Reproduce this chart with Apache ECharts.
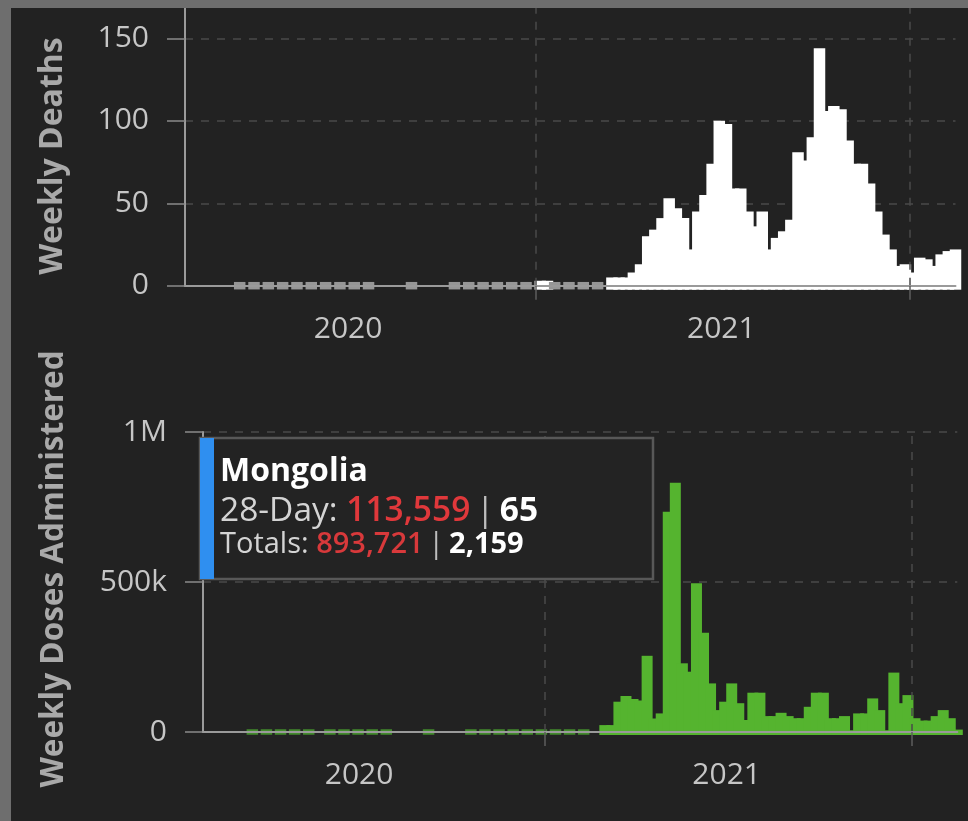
<!DOCTYPE html>
<html>
<head>
<meta charset="utf-8">
<script src="https://cdn.jsdelivr.net/npm/echarts@6.0.0/dist/echarts.min.js"></script>
<style>
html, body { margin: 0; padding: 0; background: #222222; }
#chart { width: 968px; height: 821px; }
</style>
</head>
<body>
<div id="chart"></div>
<script>
// ---------------- DATA ----------------
// Weekly buckets, centred on Tuesdays, first week 2020-01-21 (109 weeks).
const firstWeekUTC = [2020, 0, 21];

// Weekly deaths (null = no mark drawn for that week)
const weeklyDeaths = [
  null, null, null, null, null, null, null, null, 0, null,
  0, null, 0, null, 0, null, 0, null, 0, null,
  0, null, 0, null, 0, null, 0, null, null, null,
  null, null, 0, null, null, null, null, null, 0, null,
  0, null, 0, null, 0, null, 0, null, 0, null,
  3, 3, 0, null, 0, null, 0, null, 0, null,
  5, 5, 5, 8, 13, 30, 34, 41, 53, 47,
  41, 22, 45, 55, 74, 100, 98, 59, 59, 45,
  36, 45, 22, 29, 33, 40, 81, 76, 90, 144,
  106, 109, 107, 88, 74, 74, 62, 45, 31, 22,
  12, 13, 8, 17, 16, 12, 19, 21, 22
];

// Weekly vaccine doses administered (null = no mark drawn for that week)
const weeklyDoses = [
  null, null, null, null, null, null, null, null, 0, null,
  0, null, 0, null, 0, null, 0, null, null, 0,
  null, 0, null, 0, null, 0, null, 0, null, null,
  null, null, null, 0, null, null, null, null, null, 0,
  null, 0, null, 0, null, 0, null, 0, null, 0,
  null, 0, null, 0, null, 0, null, null,
  23000, 23000, 101000, 120000, 110000, 105000, 254000, 45000, 62000, 734000,
  831000, 229000, 201000, 496000, 331000, 162000, 73000, 101000, 162000, 96000,
  40000, 131000, 131000, 53000, 53000, 64000, 53000, 46000, 46000, 84000,
  131000, 131000, 46000, 46000, 53000, 6000, 62000, 62000, 112000, 73000,
  6000, 198000, 96000, 123000, 46000, 38000, 38000, 53000, 73000, 46000,
  8000
];

const deathTicks = [0, 50, 100, 150];
const doseTicks = [0, 500000, 1000000];
const yearLineDates = [[2021, 0, 1], [2022, 0, 1]];
const yearLabelDates = [[2020, 6, 1], [2021, 6, 1]];
const yearLabels = ['2020', '2021'];

const tooltipTitle = 'Mongolia';
const tooltipRows = [
  ['28-Day: ', '113,559', '65'],
  ['Totals: ', '893,721', '2,159']
];

// ---------------- BUILD ----------------
const DAY = 86400000;
const t0 = Date.UTC(firstWeekUTC[0], firstWeekUTC[1], firstWeekUTC[2]);
const weekTimes = weeklyDeaths.map((_, i) => t0 + i * 7 * DAY);
const utc = d => Date.UTC(d[0], d[1], d[2]);
const yearLineTs = yearLineDates.map(utc);
const yearLabelTs = yearLabelDates.map(utc);

const deathData = weekTimes.map((t, i) => [t, weeklyDeaths[i]]).filter(d => d[1] !== null);
const doseData = weekTimes.map((t, i) => [t, weeklyDoses[i]]).filter(d => d[1] !== null);

function makeRender(o) {
  return function (params, api) {
    const v = api.value(1);
    if (v == null || isNaN(v)) return null;
    const t = api.value(0);
    const base = api.coord([t, 0]);
    if (v === 0) {
      return {
        type: 'rect',
        shape: { x: base[0] - o.zeroW / 2, y: base[1] - o.zeroH / 2, width: o.zeroW, height: o.zeroH },
        style: { fill: o.zeroColor }
      };
    }
    const top = api.coord([t, v]);
    return {
      type: 'rect',
      shape: { x: top[0] - o.barW / 2, y: top[1], width: o.barW, height: base[1] - top[1] + o.below },
      style: { fill: o.color }
    };
  };
}

const FONT = 'Open Sans';
const labelColor = '#c6c6c6';
const titleColor = '#a9a9a9';
const axisColor = '#9a9a9a';
const gridColor = '#4a4a4a';

function yearLabel(v) {
  let best = 0, bd = Infinity;
  yearLabelTs.forEach((t, i) => { const d = Math.abs(t - v); if (d < bd) { bd = d; best = i; } });
  return yearLabels[best];
}

function xAxisFor(gridIndex, min, max, margin) {
  return {
    type: 'value', gridIndex, min, max, z: 3, scale: true,
    axisLine: { show: true, onZero: false, lineStyle: { color: axisColor, width: 2 } },
    axisTick: { show: true, customValues: yearLineTs, length: 14, lineStyle: { color: '#5e5e5e', width: 1.5 } },
    axisLabel: {
      show: true, customValues: yearLabelTs, color: labelColor, fontSize: 30, fontFamily: FONT, margin,
      formatter: v => yearLabel(v)
    },
    splitLine: { show: false }
  };
}

const yearGridLines = {
  silent: true, symbol: ['none', 'none'], z: 3,
  label: { show: false },
  lineStyle: { color: gridColor, type: [8, 8], width: 1.5 },
  emphasis: { disabled: true },
  data: yearLineTs.map(t => ({ xAxis: t }))
};

const option = {
  animation: false,
  backgroundColor: '#222222',
  textStyle: { fontFamily: FONT },
  grid: [
    { left: 185, right: 12.5, top: 5.4, bottom: 535.3 },
    { left: 203, right: 10.7, top: 432, bottom: 89 }
  ],
  xAxis: [
    xAxisFor(0, Date.UTC(2020, 0, 23, 12), Date.UTC(2022, 1, 15), 29),
    xAxisFor(1, Date.UTC(2020, 0, 28), Date.UTC(2022, 1, 15), 28)
  ],
  yAxis: [
    {
      type: 'value', gridIndex: 0, min: deathTicks[0], max: 170, interval: deathTicks[1] - deathTicks[0],
      name: 'Weekly Deaths', nameLocation: 'middle', nameRotate: 90, nameGap: 116,
      nameTextStyle: { color: titleColor, fontSize: 32, fontWeight: 'bold', fontFamily: FONT, padding: [0, 21, 0, 0] },
      axisLine: { show: true, lineStyle: { color: axisColor, width: 2 } },
      axisTick: { show: true, length: 18, lineStyle: { color: '#8a8a8a', width: 1.5 } },
      axisLabel: { color: labelColor, fontSize: 30, fontFamily: FONT, margin: 36, showMaxLabel: false },
      splitLine: { show: true, lineStyle: { color: gridColor, type: [8, 8], width: 1.5 } }
    },
    {
      type: 'value', gridIndex: 1, min: doseTicks[0], max: doseTicks[2], interval: doseTicks[1] - doseTicks[0],
      name: 'Weekly Doses Administered', nameLocation: 'middle', nameRotate: 90, nameGap: 133,
      nameTextStyle: { color: titleColor, fontSize: 31.5, fontWeight: 'bold', fontFamily: FONT, padding: [0, 0, 0, 26] },
      axisLine: { show: true, lineStyle: { color: axisColor, width: 2 } },
      axisTick: { show: true, length: 18, lineStyle: { color: '#8a8a8a', width: 1.5 } },
      axisLabel: {
        color: labelColor, fontSize: 30, fontFamily: FONT, margin: 36,
        formatter: v => v === 0 ? '0' : (v >= 1000000 ? (v / 1000000) + 'M' : (v / 1000) + 'k')
      },
      splitLine: { show: true, lineStyle: { color: gridColor, type: [8, 8], width: 1.5 } }
    }
  ],
  series: [
    {
      name: 'Weekly Deaths', type: 'custom', xAxisIndex: 0, yAxisIndex: 0, z: 2,
      encode: { x: 0, y: 1 },
      renderItem: makeRender({ barW: 11.5, below: 4, color: '#ffffff', zeroW: 11.5, zeroH: 7.5, zeroColor: '#969696' }),
      markLine: yearGridLines,
      data: deathData
    },
    {
      name: 'Weekly Doses', type: 'custom', xAxisIndex: 1, yAxisIndex: 1, z: 2,
      encode: { x: 0, y: 1 },
      renderItem: makeRender({ barW: 11, below: 3, color: '#55b42f', zeroW: 11.5, zeroH: 5.5, zeroColor: '#428a2c' }),
      markLine: yearGridLines,
      data: doseData
    }
  ],
  graphic: [
    { type: 'rect', z: 100, shape: { x: 200, y: 438, width: 453, height: 141 },
      style: { fill: '#232323', stroke: '#585858', lineWidth: 2.5 } },
    { type: 'rect', z: 101, shape: { x: 200, y: 438, width: 14, height: 141 },
      style: { fill: '#2f8ff0' } },
    { type: 'text', z: 102, x: 220, y: 472,
      style: { text: tooltipTitle, fill: '#ffffff', fontSize: 32, fontWeight: 'bold', fontFamily: FONT, verticalAlign: 'middle' } },
    { type: 'text', z: 102, x: 220, y: 511,
      style: {
        text: '{a|' + tooltipRows[0][0] + '}{b|' + tooltipRows[0][1] + '}{c|\u2009|\u2009}{d|' + tooltipRows[0][2] + '}',
        verticalAlign: 'middle',
        rich: {
          a: { fill: '#d4d4d4', fontSize: 33.5, fontFamily: FONT },
          b: { fill: '#e0383b', fontSize: 33.5, fontFamily: FONT, fontWeight: 600 },
          c: { fill: '#bdbdbd', fontSize: 33.5, fontFamily: FONT },
          d: { fill: '#ffffff', fontSize: 33.5, fontFamily: FONT, fontWeight: 'bold' }
        }
      } },
    { type: 'text', z: 102, x: 220, y: 545,
      style: {
        text: '{a|' + tooltipRows[1][0] + '}{b|' + tooltipRows[1][1] + '}{c|\u2009|\u2009}{d|' + tooltipRows[1][2] + '}',
        verticalAlign: 'middle',
        rich: {
          a: { fill: '#d4d4d4', fontSize: 29, fontFamily: FONT },
          b: { fill: '#d8393b', fontSize: 29, fontFamily: FONT, fontWeight: 600 },
          c: { fill: '#bdbdbd', fontSize: 29, fontFamily: FONT },
          d: { fill: '#ffffff', fontSize: 29, fontFamily: FONT, fontWeight: 'bold' }
        }
      } },
    { type: 'rect', z: 200, shape: { x: 0, y: 0, width: 11, height: 821 }, style: { fill: '#6e6e6e' } },
    { type: 'rect', z: 200, shape: { x: 0, y: 0, width: 968, height: 8 }, style: { fill: '#6e6e6e' } }
  ]
};

const chart = echarts.init(document.getElementById('chart'), null, { renderer: 'canvas' });
chart.setOption(option);
</script>
</body>
</html>
